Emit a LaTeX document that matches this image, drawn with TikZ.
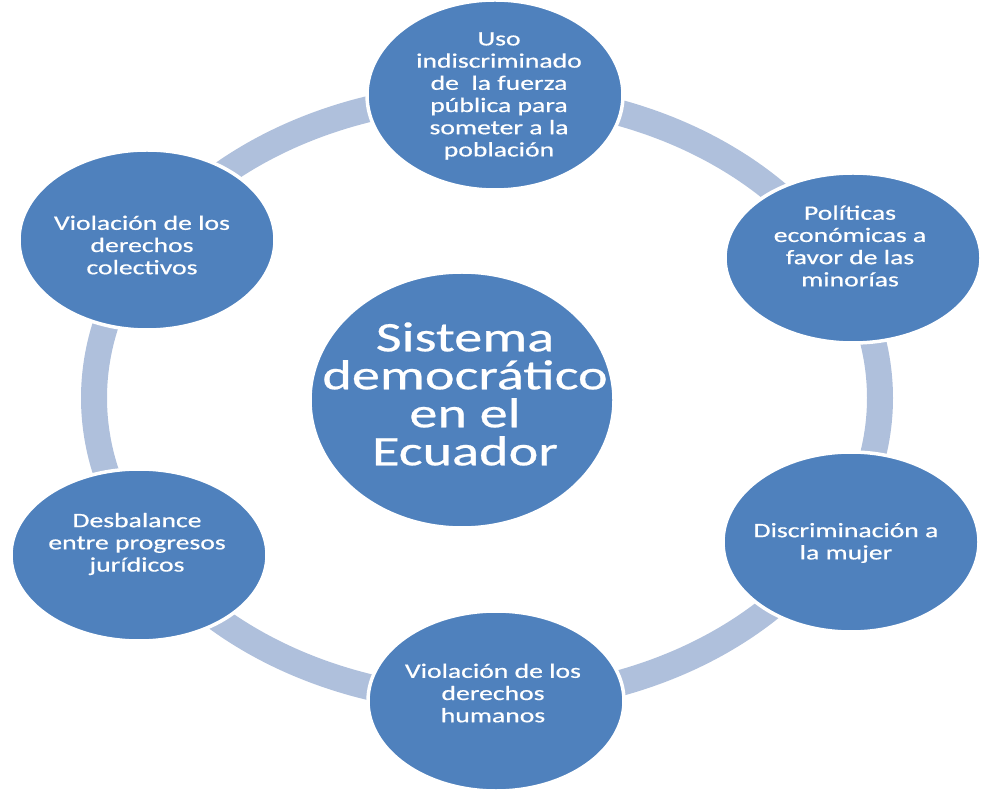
\documentclass[tikz,border=0pt]{standalone}
\usepackage{fontspec}
\setmainfont{Carlito}[UprightFeatures={FakeBold=0.5}]
\usepackage{graphicx}
\usetikzlibrary{shapes.geometric,calc,backgrounds}
\definecolor{cfill}{HTML}{4F81BD}
\definecolor{cring}{HTML}{AFC0DC}
\newcommand{\widetext}[5]{\scalebox{#1}[1]{\parbox{#2}{\centering\fontsize{#3}{#4}\selectfont\lineskiplimit=-100pt #5\par}}}
\newcommand{\smalltxt}[1]{\widetext{1.35}{165pt}{20.5}{22.2}{#1}}
\begin{document}
\begin{tikzpicture}[x=1pt,y=1pt,
  blob/.style={ellipse,fill=cfill,draw=white,line width=3.5pt,inner sep=0pt,
    minimum width=256pt,minimum height=180pt},
  bigblob/.style={blob,minimum width=304pt,minimum height=256pt},
  txt/.style={text=white,inner sep=0pt},
  ring/.style={draw=cring,line width=26pt}]
\useasboundingbox (0,0) rectangle (985,793);
% outer nodes
\node[blob,minimum height=190pt] (top) at (495,698) {};
\node[blob,minimum height=170pt] (ur) at (853,535) {};
\node[blob] (lr) at (851,251) {};
\node[blob] (bot) at (496,92) {};
\node[blob,minimum height=172pt] (ll) at (139,238) {};
\node[blob] (ul) at (147,553) {};
% ring points (hidden under the nodes)
\coordinate (R) at (487,395);
\def\rx{393pt}\def\ry{303pt}
\coordinate (pt) at ($(R)+(90:393 and 303)$);
\coordinate (pur) at ($(R)+(30:393 and 303)$);
\coordinate (plr) at ($(R)+(-30:393 and 303)$);
\coordinate (pb) at ($(R)+(-90:393 and 303)$);
\coordinate (pll) at ($(R)+(210:393 and 303)$);
\coordinate (pul) at ($(R)+(150:393 and 303)$);
\begin{scope}[on background layer]
\path[ring] (pt) arc[start angle=90,end angle=30,x radius=\rx,y radius=\ry];
\path[ring] (pur) arc[start angle=30,end angle=-30,x radius=\rx,y radius=\ry];
\path[ring] (plr) arc[start angle=-30,end angle=-90,x radius=\rx,y radius=\ry];
\path[ring] (pb) arc[start angle=-90,end angle=-150,x radius=\rx,y radius=\ry];
\path[ring] (pll) arc[start angle=210,end angle=150,x radius=\rx,y radius=\ry];
\path[ring] (pul) arc[start angle=150,end angle=90,x radius=\rx,y radius=\ry];
\end{scope}
\node[bigblob] (c) at (462,393) {};
\node[txt] (ct) at ($(c.center)+(3,6)$) {\widetext{1.34}{235pt}{42}{38}{Sistema\\democrático\\en el\\Ecuador}};
\node[txt] (topt) at ($(top.center)+(4,-1)$) {\smalltxt{Uso\\indiscriminado\\de~ la fuerza\\pública para\\someter a la\\población}};
\node[txt] (urt) at ($(ur.center)+(-3,12)$) {\smalltxt{Políticas\\económicas a\\favor de las\\minorías}};
\node[txt] (lrt) at ($(lr.center)+(-5,-1)$) {\smalltxt{Discriminación a\\la mujer}};
\node[txt] (bott) at ($(bot.center)+(-3,8)$) {\smalltxt{Violación de los\\derechos\\humanos}};
\node[txt] (llt) at ($(ll.center)+(-2,11)$) {\smalltxt{Desbalance\\entre progresos\\jurídicos}};
\node[txt] (ult) at ($(ul.center)+(-5,-5)$) {\smalltxt{Violación de los\\derechos\\colectivos}};
\end{tikzpicture}
\end{document}
